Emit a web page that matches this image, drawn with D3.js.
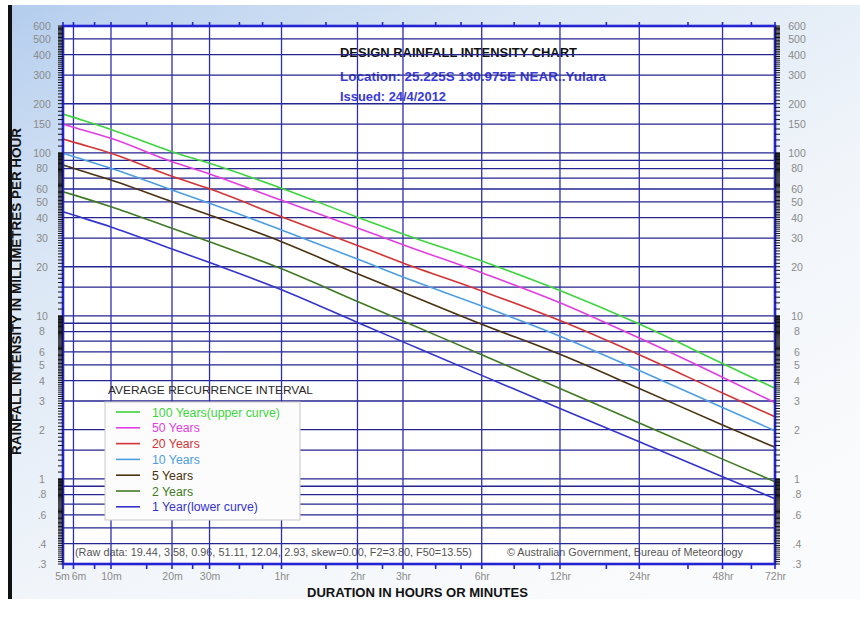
<!DOCTYPE html>
<html>
<head>
<meta charset="utf-8">
<script src="https://cdn.jsdelivr.net/npm/d3@7"></script>
<style>
  html, body { margin: 0; padding: 0; background: #ffffff; }
  svg { display: block; font-family: "Liberation Sans", Arial, sans-serif; }
</style>
</head>
<body>
<svg id="chart" width="860" height="617"></svg>
<script>
// Durations (minutes) at which intensities are read, with their axis labels
const durations = [5, 6, 10, 20, 30, 60, 120, 180, 360, 720, 1440, 2880, 4320];
const durationLabels = ["5m", "6m", "10m", "20m", "30m", "1hr", "2hr", "3hr", "6hr", "12hr", "24hr", "48hr", "72hr"];
const minorDurations = [8, 15, 25, 40, 50, 90, 150, 240, 300, 480, 600, 1080, 2160, 3600];

// Intensity axis (mm/h)
const intensityTicks = [600, 500, 400, 300, 200, 150, 100, 80, 60, 50, 40, 30, 20, 10, 8, 6, 5, 4, 3, 2, 1, 0.8, 0.6, 0.4, 0.3];
const intensityTickLabels = ["600", "500", "400", "300", "200", "150", "100", "80", "60", "50", "40", "30", "20", "10", "8", "6", "5", "4", "3", "2", "1", ".8", ".6", ".4", ".3"];
const intensityGrid = [500, 400, 300, 200, 150, 100, 90, 80, 70, 60, 50, 40, 30, 20, 15, 10, 9, 8, 7, 6, 5, 4, 3, 2, 1.5, 1, 0.9, 0.8, 0.7, 0.6, 0.5, 0.4];

// Average recurrence intervals and their intensities (mm/h) at each duration
const ariNames = ["100 Years(upper curve)", "50 Years", "20 Years", "10 Years", "5 Years", "2 Years", "1 Year(lower curve)"];
const ari100 = [173, 165, 139, 101.6, 86.2, 60.6, 40.3, 31.8, 21.7, 14.3, 8.9, 5.1, 3.59];
const ari50  = [150, 143.5, 122.7, 88.2, 74.2, 51.11, 34.6, 27.3, 18.35, 12.04, 7.3, 4.2, 2.93];
const ari20  = [121.7, 116.3, 99.4, 71.7, 60.1, 40.5, 27.0, 21.1, 14.2, 9.35, 5.77, 3.36, 2.40];
const ari10  = [99.4, 94.8, 80.3, 59.1, 49.0, 33.6, 22.3, 17.3, 11.5, 7.5, 4.62, 2.74, 1.97];
const ari5   = [84.2, 80.3, 68.1, 50.1, 41.5, 28.5, 18.1, 13.95, 8.88, 5.8, 3.58, 2.14, 1.56];
const ari2   = [57.7, 55.2, 46.7, 34.4, 28.5, 19.44, 12.25, 9.29, 5.76, 3.58, 2.2, 1.32, 0.96];
const ari1   = [43.5, 41.5, 35.1, 25.7, 21.2, 14.45, 9.1, 6.92, 4.31, 2.70, 1.685, 1.03, 0.755];

const ariColors = ["#3ed43e", "#e03ee0", "#d33434", "#4d9ee0", "#4a3210", "#3f7a22", "#3434cc"];

const titleLines = ["DESIGN RAINFALL INTENSITY CHART", "Location: 25.225S  130.975E  NEAR..Yulara", "Issued: 24/4/2012"];
const rawDataNote = "(Raw data: 19.44, 3.58, 0.96, 51.11, 12.04, 2.93, skew=0.00, F2=3.80, F50=13.55)";
const creditNote = "\u00A9 Australian Government, Bureau of Meteorology";

const series = ariNames.map((name, i) => ({
  name,
  color: ariColors[i],
  values: [ari100, ari50, ari20, ari10, ari5, ari2, ari1][i]
}));

// ---- layout ----
const svg = d3.select("#chart");
const plot = { left: 63, right: 775, top: 26, bottom: 564 };
const plotW = plot.right - plot.left;

// The duration axis is log-based but stretched differently along its length,
// so it is a piecewise log scale anchored at each labelled duration.
const durationStops = [0, 0.0147, 0.0674, 0.1531, 0.2058, 0.3069, 0.4136, 0.4775, 0.5881, 0.698, 0.8094, 0.9263, 1];
const x = d3.scaleLog()
  .domain(durations)
  .range(durationStops.map(f => plot.left + f * plotW));

const y = d3.scaleLog()
  .domain([0.3, 600])
  .range([plot.bottom, plot.top]);

// ---- background panel ----
const defs = svg.append("defs");
const grad = defs.append("linearGradient")
  .attr("id", "panelGrad")
  .attr("x1", "0").attr("y1", "0").attr("x2", "0.75").attr("y2", "1");
grad.append("stop").attr("offset", "0").attr("stop-color", "#b4cdee");
grad.append("stop").attr("offset", "0.3").attr("stop-color", "#dbe7f5");
grad.append("stop").attr("offset", "0.65").attr("stop-color", "#f1f5fa");
grad.append("stop").attr("offset", "1").attr("stop-color", "#fafbfc");

svg.append("rect").attr("x", 8).attr("y", 5).attr("width", 852).attr("height", 594)
  .attr("fill", "url(#panelGrad)");
svg.append("rect").attr("x", 8).attr("y", 5).attr("width", 4).attr("height", 594)
  .attr("fill", "#111");

svg.append("rect")
  .attr("x", plot.left).attr("y", plot.top)
  .attr("width", plotW).attr("height", plot.bottom - plot.top)
  .attr("fill", "#ffffff");

// ---- texts inside the plot (under the grid) ----
const titleG = svg.append("g").attr("font-weight", "bold").attr("font-size", 12);
titleG.append("text").attr("x", 340).attr("y", 57).attr("fill", "#111")
  .attr("textLength", 237).attr("lengthAdjust", "spacingAndGlyphs").text(titleLines[0]);
titleG.append("text").attr("x", 340).attr("y", 81).attr("fill", "#3a3ad8")
  .attr("textLength", 266).attr("lengthAdjust", "spacingAndGlyphs").text(titleLines[1]);
titleG.append("text").attr("x", 340).attr("y", 101).attr("fill", "#3a3ad8")
  .attr("textLength", 106).attr("lengthAdjust", "spacingAndGlyphs").text(titleLines[2]);

svg.append("text").attr("x", 75).attr("y", 556).attr("font-size", 10.5).attr("fill", "#555")
  .attr("textLength", 397).attr("lengthAdjust", "spacingAndGlyphs")
  .text(rawDataNote);
svg.append("text").attr("x", 507).attr("y", 556).attr("font-size", 10.5).attr("fill", "#555")
  .attr("textLength", 236).attr("lengthAdjust", "spacingAndGlyphs")
  .text(creditNote);

// ---- grid ----
const grid = svg.append("g");
grid.selectAll("line.h").data(intensityGrid).join("line")
  .attr("class", "h")
  .attr("x1", plot.left).attr("x2", plot.right)
  .attr("y1", d => y(d)).attr("y2", d => y(d))
  .attr("stroke", "#25258f").attr("stroke-width", 1.3);

grid.selectAll("line.v").data(durations.slice(1, -1)).join("line")
  .attr("class", "v")
  .attr("x1", d => x(d)).attr("x2", d => x(d))
  .attr("y1", plot.top).attr("y2", plot.bottom)
  .attr("stroke", "#2e2eb0").attr("stroke-width", 1.3);

// ---- ARI curves ----
const line = d3.line()
  .x((d, i) => x(durations[i]))
  .y(d => y(d))
  .curve(d3.curveMonotoneX);

svg.append("g").selectAll("path").data(series).join("path")
  .attr("d", d => line(d.values))
  .attr("fill", "none")
  .attr("stroke", d => d.color)
  .attr("stroke-width", 1.6);

// ---- legend ----
svg.append("text").attr("x", 108).attr("y", 394)
  .attr("font-size", 11.3).attr("fill", "#2a2a2a")
  .attr("textLength", 205).attr("lengthAdjust", "spacingAndGlyphs")
  .text("AVERAGE RECURRENCE INTERVAL");

const legend = svg.append("g").attr("transform", "translate(105,402)");
legend.append("rect").attr("width", 195).attr("height", 118)
  .attr("fill", "#fcfcfc").attr("stroke", "#c8c8c8").attr("stroke-width", 1);
const rows = legend.selectAll("g.row").data(series).join("g")
  .attr("class", "row")
  .attr("transform", (d, i) => `translate(0,${10 + i * 15.8})`);
rows.append("line").attr("x1", 11).attr("x2", 35).attr("y1", 0).attr("y2", 0)
  .attr("stroke", d => d.color).attr("stroke-width", 1.6);
rows.append("text").attr("x", 47).attr("y", 4.5)
  .attr("font-size", 12.3).attr("fill", d => d.color)
  .text(d => d.name);

// ---- frame ----
svg.append("rect")
  .attr("x", plot.left).attr("y", plot.top)
  .attr("width", plotW).attr("height", plot.bottom - plot.top)
  .attr("fill", "none").attr("stroke", "#2424d0").attr("stroke-width", 2.6);

// ---- minor ticks on the intensity axes ----
const minorIntensity = [];
[0.1, 1, 10, 100].forEach(base => {
  for (let n = 10; n < 100; n++) {
    const v = n * base / 10;
    if (v >= 0.3 && v <= 600) minorIntensity.push(v);
  }
});
const ticks = svg.append("g").attr("stroke", "#111").attr("stroke-width", 1);
ticks.selectAll("line.yl").data(minorIntensity).join("line")
  .attr("x1", plot.left - 5).attr("x2", plot.left)
  .attr("y1", d => y(d)).attr("y2", d => y(d));
ticks.selectAll("line.yr").data(minorIntensity).join("line")
  .attr("x1", plot.right).attr("x2", plot.right + 5)
  .attr("y1", d => y(d)).attr("y2", d => y(d));

// duration ticks top and bottom
const durTicks = svg.append("g").attr("stroke", "#2424d0").attr("stroke-width", 1.6);
const allDur = durations.concat(minorDurations);
durTicks.selectAll("line.b").data(allDur).join("line")
  .attr("x1", d => x(d)).attr("x2", d => x(d))
  .attr("y1", plot.bottom).attr("y2", plot.bottom + 5);
durTicks.selectAll("line.t").data(allDur).join("line")
  .attr("x1", d => x(d)).attr("x2", d => x(d))
  .attr("y1", plot.top - 4).attr("y2", plot.top);

// ---- axis labels ----
const yAxisL = d3.axisLeft(y).tickValues(intensityTicks)
  .tickFormat((d, i) => intensityTickLabels[i]).tickSize(0);
const yAxisR = d3.axisRight(y).tickValues(intensityTicks)
  .tickFormat((d, i) => intensityTickLabels[i]).tickSize(0);

const gL = svg.append("g").attr("transform", `translate(${plot.left},0)`).call(yAxisL);
const gR = svg.append("g").attr("transform", `translate(${plot.right},0)`).call(yAxisR);
[gL, gR].forEach(g => {
  g.select(".domain").remove();
  g.selectAll("text")
    .attr("font-family", "Liberation Sans, Arial, sans-serif")
    .attr("font-size", 10.5).attr("fill", "#8a8a8a")
    .attr("text-anchor", "middle");
});
gL.selectAll("text").attr("x", -21);
gR.selectAll("text").attr("x", 22);

const xAxis = d3.axisBottom(x).tickValues(durations)
  .tickFormat((d, i) => durationLabels[i]).tickSize(0);
const gX = svg.append("g").attr("transform", `translate(0,${plot.bottom})`).call(xAxis);
gX.select(".domain").remove();
gX.selectAll("text")
  .attr("font-family", "Liberation Sans, Arial, sans-serif")
  .attr("font-size", 10.5).attr("fill", "#8a8a8a")
  .attr("y", 9);
gX.selectAll(".tick").filter(d => d === 5).select("text").attr("dx", -1);
gX.selectAll(".tick").filter(d => d === 6).select("text").attr("dx", 5);

// axis titles
svg.append("text").attr("x", 307).attr("y", 597)
  .attr("font-weight", "bold").attr("font-size", 12).attr("fill", "#111")
  .attr("textLength", 221).attr("lengthAdjust", "spacingAndGlyphs")
  .text("DURATION IN HOURS OR MINUTES");
svg.append("text")
  .attr("transform", "translate(21,455) rotate(-90)")
  .attr("font-weight", "bold").attr("font-size", 12).attr("fill", "#111")
  .attr("textLength", 327).attr("lengthAdjust", "spacingAndGlyphs")
  .text("RAINFALL INTENSITY IN MILLIMETRES PER HOUR");
</script>
</body>
</html>
